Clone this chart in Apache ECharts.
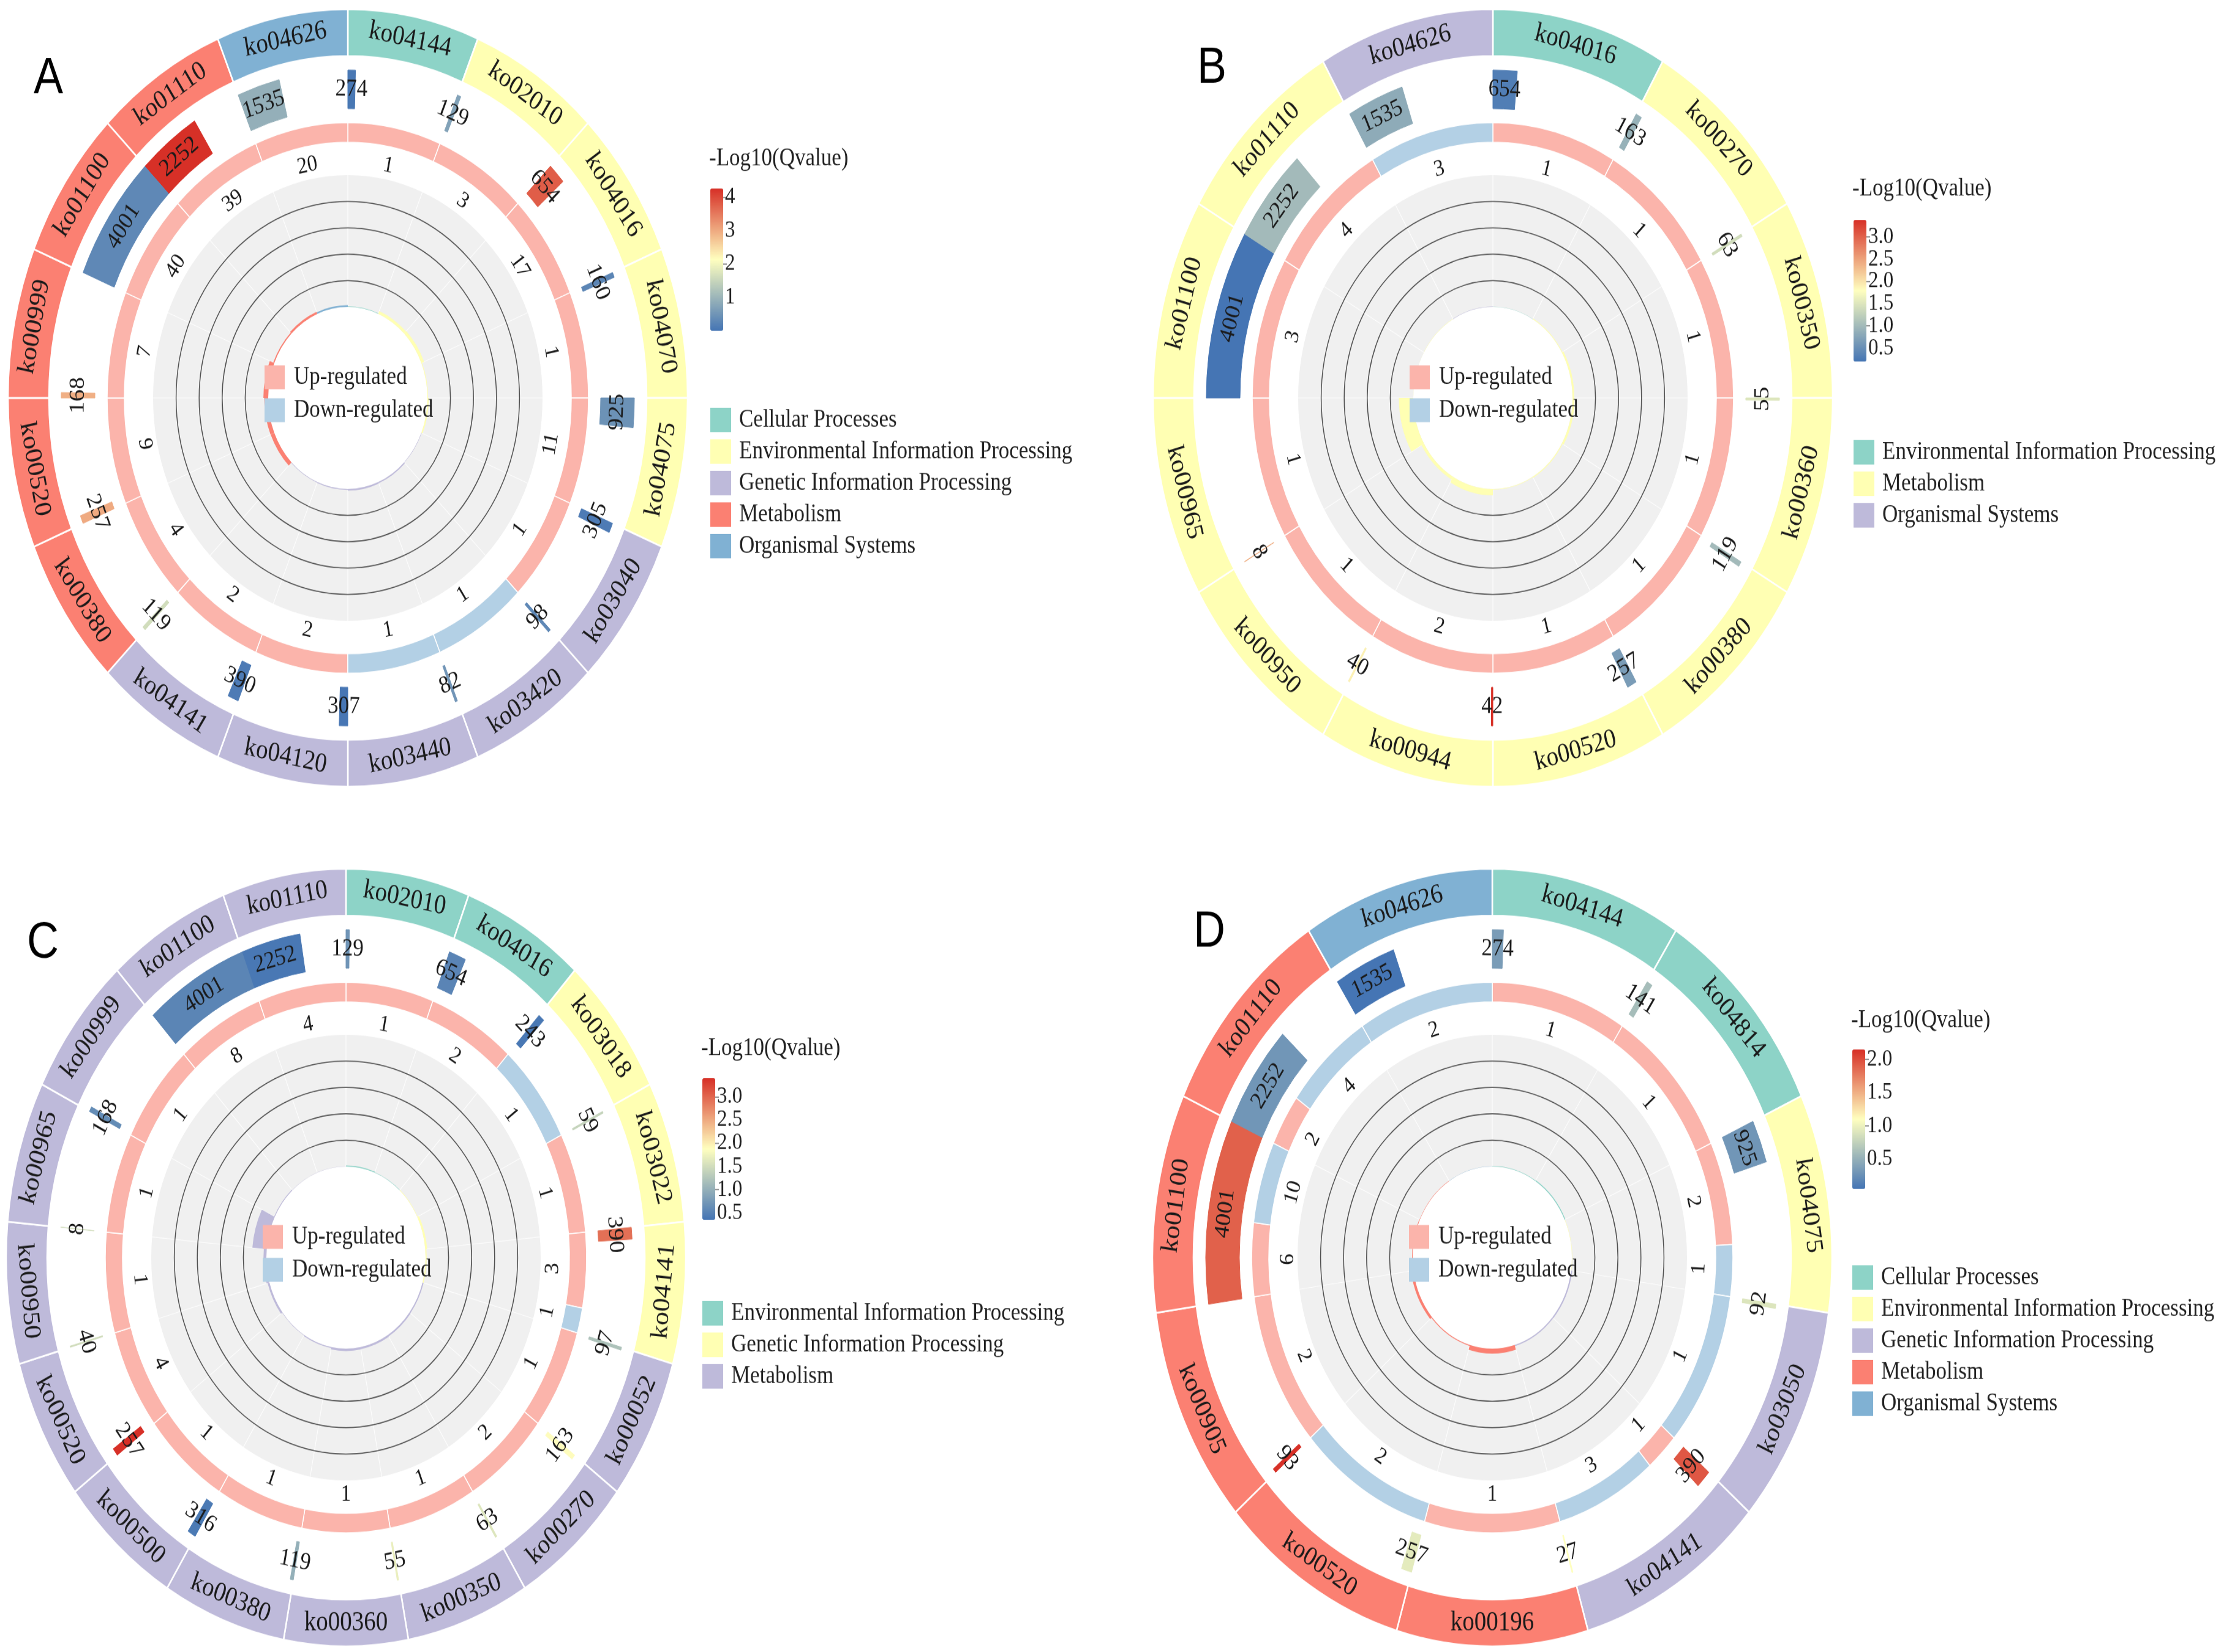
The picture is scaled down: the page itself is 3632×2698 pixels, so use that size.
<!DOCTYPE html>
<html>
<head>
<meta charset="utf-8">
<script src="https://cdn.jsdelivr.net/npm/echarts@6/dist/echarts.min.js"></script>
<style>
html{margin:0;padding:0;background:#ffffff;overflow:hidden;}
body{margin:0;padding:0;background:#ffffff;width:3632px;height:2698px;}
#chart{width:3632px;height:2358px;transform:scaleY(1.14419);transform-origin:0 0;}
</style>
</head>
<body>
<div id="chart"></div>
<script>
// ================= DATA =================
// Panel A
const A_pathways = ['ko04144','ko02010','ko04016','ko04070','ko04075','ko03040','ko03420','ko03440','ko04120','ko04141','ko00380','ko00520','ko00999','ko01100','ko01110','ko04626'];
const A_classes = ['Cellular Processes','Environmental Information Processing','Genetic Information Processing','Metabolism','Organismal Systems'];
const A_pathwayClass = [0,1,1,1,1,2,2,2,2,2,3,3,3,3,3,4];
const A_background = [274,129,654,160,925,305,98,82,307,390,119,257,168,4001,2252,1535];
const A_qvalue = [0.05,0.7,3.8,0.25,0.45,0.1,0.3,0.5,0.02,0.1,1.6,3.0,2.95,0.3,4.26,0.9];
const A_up = [1,3,17,1,11,1,0,0,2,2,4,9,7,40,39,20];
const A_down = [0,0,0,0,0,0,1,1,0,0,0,0,0,0,0,0];
const A_richFactor = [0.004,0.023,0.026,0.006,0.012,0.003,0.010,0.012,0.0065,0.005,0.034,0.035,0.042,0.010,0.017,0.013];
const A_qRange = [0, 4.26];
const A_qTicks = [1,2,3,4];

// Panel B
const B_pathways = ['ko04016','ko00270','ko00350','ko00360','ko00380','ko00520','ko00944','ko00950','ko00965','ko01100','ko01110','ko04626'];
const B_classes = ['Environmental Information Processing','Metabolism','Organismal Systems'];
const B_pathwayClass = [0,1,1,1,1,1,1,1,1,1,1,2];
const B_background = [654,163,63,55,119,257,42,40,8,4001,2252,1535];
const B_qvalue = [0.3,0.9,1.4,1.5,1.0,0.65,3.38,1.9,2.4,0.2,1.0,0.82];
const B_up = [1,1,1,1,1,1,2,1,1,3,4,0];
const B_down = [0,0,0,0,0,0,0,0,0,0,0,3];
const B_richFactor = [0.0015,0.006,0.016,0.018,0.008,0.004,0.048,0.025,0.125,0.00075,0.0018,0.002];
const B_qRange = [0.2, 3.38];
const B_qTicks = [0.5,1.0,1.5,2.0,2.5,3.0];

// Panel C
const C_pathways = ['ko02010','ko04016','ko03018','ko03022','ko04141','ko00052','ko00270','ko00350','ko00360','ko00380','ko00500','ko00520','ko00950','ko00965','ko00999','ko01100','ko01110'];
const C_classes = ['Environmental Information Processing','Genetic Information Processing','Metabolism'];
const C_pathwayClass = [0,0,1,1,1,2,2,2,2,2,2,2,2,2,2,2,2];
const C_background = [129,654,243,59,390,97,163,63,55,119,316,257,40,8,168,4001,2252];
const C_qvalue = [0.7,0.52,0.38,1.4,2.93,1.2,1.9,1.6,1.7,1.0,0.4,3.4,1.5,1.5,0.6,0.53,0.38];
const C_up = [1,2,0,1,3,1,2,1,1,1,1,4,1,1,1,8,4];
const C_down = [0,0,1,0,1,0,0,0,0,0,0,0,0,0,0,0,0];
const C_richFactor = [0.008,0.003,0.004,0.017,0.010,0.010,0.012,0.016,0.018,0.008,0.003,0.016,0.025,0.125,0.006,0.002,0.0018];
const C_qRange = [0.35, 3.4];
const C_qTicks = [0.5,1.0,1.5,2.0,2.5,3.0];

// Panel D
const D_pathways = ['ko04144','ko04814','ko04075','ko03050','ko04141','ko00196','ko00520','ko00905','ko01100','ko01110','ko04626'];
const D_classes = ['Cellular Processes','Environmental Information Processing','Genetic Information Processing','Metabolism','Organismal Systems'];
const D_pathwayClass = [0,0,1,2,2,3,3,3,3,3,4];
const D_background = [274,141,925,92,390,27,257,93,4001,2252,1535];
const D_qvalue = [0.35,0.6,0.3,0.9,1.95,1.1,0.95,2.15,1.9,0.3,0.05];
const D_up = [1,1,2,0,1,1,0,2,9,2,0];
const D_down = [0,0,1,1,3,0,2,0,10,4,2];
const D_richFactor = [0.004,0.007,0.003,0.011,0.010,0.037,0.008,0.0215,0.005,0.0027,0.0013];
const D_qRange = [0.05, 2.15];
const D_qTicks = [0.5,1.0,1.5,2.0];

// ================= STYLE =================
const SET3 = ['#8DD3C7','#FFFFB3','#BEBADA','#FB8072','#80B1D3'];
const UP_COLOR = '#FBB4AB';
const DOWN_COLOR = '#B3D0E5';
const QCOLORS = ['#4575B4','#FFFFBF','#D73027'];
const SERIF = 'Liberation Serif';
const TEXT_COLOR = '#1a1a1a';
// track radii (px in the un-stretched drawing)
const R = {outer0:488, outer1:555, bar0:413, bar1:468, ring0:365, ring1:393, ringLabel:338, rf0:130, rf1:318};

const PANELS = [
  {key:'A', pathways:A_pathways, classes:A_classes, pathwayClass:A_pathwayClass, background:A_background, qvalue:A_qvalue, up:A_up, down:A_down, richFactor:A_richFactor, qRange:A_qRange, qTicks:A_qTicks, qDigits:0,
   layout:{center:[568,568], letter:[55,77], legendX:1160, titleTop:209, barTop:269, barH:203, catTop:582}},
  {key:'B', pathways:B_pathways, classes:B_classes, pathwayClass:B_pathwayClass, background:B_background, qvalue:B_qvalue, up:B_up, down:B_down, richFactor:B_richFactor, qRange:B_qRange, qTicks:B_qTicks, qDigits:1,
   layout:{center:[2438,568], letter:[1955,62], legendX:3027, titleTop:252, barTop:314, barH:202, catTop:628}},
  {key:'C', pathways:C_pathways, classes:C_classes, pathwayClass:C_pathwayClass, background:C_background, qvalue:C_qvalue, up:C_up, down:C_down, richFactor:C_richFactor, qRange:C_qRange, qTicks:C_qTicks, qDigits:1,
   layout:{center:[565,1795], letter:[44,1311], legendX:1147, titleTop:1479, barTop:1539, barH:202, catTop:1857}},
  {key:'D', pathways:D_pathways, classes:D_classes, pathwayClass:D_pathwayClass, background:D_background, qvalue:D_qvalue, up:D_up, down:D_down, richFactor:D_richFactor, qRange:D_qRange, qTicks:D_qTicks, qDigits:1,
   layout:{center:[2437,1795], letter:[1949,1295], legendX:3025, titleTop:1439, barTop:1498, barH:199, catTop:1806}}
];

// ================= HELPERS =================
function tools(api) {
  const c = api.coord([0, 0]);
  return {
    c: c,
    ang: function (a) { const q = api.coord([100, a]); return Math.atan2(q[1] - c[1], q[0] - c[0]); },
    rad: function (r) { const q = api.coord([r, 0]); return Math.hypot(q[0] - c[0], q[1] - c[1]); },
    pt: function (r, a) { return api.coord([r, a]); }
  };
}
function sectorEl(T, a0, a1, r0, r1, style) {
  if (!(a1 - a0 > 0)) return null;
  const s = T.ang(a0);
  let e = T.ang(a1);
  while (e <= s) e += 2 * Math.PI;
  return {type:'sector', shape:{cx:T.c[0], cy:T.c[1], r0:T.rad(r0), r:T.rad(r1), startAngle:s, endAngle:e, clockwise:true}, style:style};
}
function textEl(T, r, a, text, size) {
  const q = T.pt(r, a);
  let th = Math.atan2(q[0] - T.c[0], -(q[1] - T.c[1])) * 180 / Math.PI;
  if (th < 0) th += 360;
  const rot = (th > 90 && th < 270) ? (180 - th) : -th;
  return {type:'text', x:q[0], y:q[1], rotation:rot * Math.PI / 180,
    style:{text:String(text), fill:TEXT_COLOR, font:size + 'px "Liberation Serif"', align:'center', verticalAlign:'middle'}};
}
function nameFmt(n) { return n.split('::')[1]; }

function addPanel(opt, p) {
  const L = p.layout, n = p.pathways.length;
  const maxBg = Math.max.apply(null, p.background);

  const mainPolar = opt.polar.length;
  opt.polar.push({center:L.center, radius:[0, R.outer1]});
  opt.angleAxis.push({polarIndex:mainPolar, type:'value', min:0, max:n, startAngle:90, clockwise:true, show:false});
  opt.radiusAxis.push({polarIndex:mainPolar, type:'value', min:0, max:R.outer1, show:false});

  // inner (rich factor) track: grey background + white sector separators
  const rfPolar = opt.polar.length;
  opt.polar.push({center:L.center, radius:[R.rf0, R.rf1]});
  opt.angleAxis.push({polarIndex:rfPolar, type:'category', data:p.pathways, startAngle:90, clockwise:true, boundaryGap:true, z:1,
    axisLine:{show:false}, axisTick:{show:false}, axisLabel:{show:false},
    splitLine:{show:true, interval:0, lineStyle:{color:'rgba(255,255,255,0.85)', width:1.2}}});
  opt.radiusAxis.push({polarIndex:rfPolar, type:'value', min:0, max:1, interval:0.2,
    axisLine:{show:false}, axisTick:{show:false}, axisLabel:{show:false}, splitLine:{show:false},
    splitArea:{show:true, areaStyle:{color:['#F0F0F0']}}});

  // circle grid lines of the rich factor scale
  const gridPolar = opt.polar.length;
  opt.polar.push({center:L.center, radius:[R.rf0, R.rf1]});
  opt.angleAxis.push({polarIndex:gridPolar, type:'value', min:0, max:n, startAngle:90, clockwise:true, show:false});
  opt.radiusAxis.push({polarIndex:gridPolar, type:'value', min:0, max:1, interval:0.2, z:2,
    axisLine:{show:false}, axisTick:{show:false}, axisLabel:{show:false}, splitArea:{show:false},
    splitLine:{show:true, lineStyle:{color:['rgba(0,0,0,0)','#505050','#505050','#505050','#505050','rgba(0,0,0,0)'], width:1.5}}});

  // rich factor (inner track)
  opt.series.push({type:'bar', name:p.key + '::Rich factor', coordinateSystem:'polar', polarIndex:rfPolar, barCategoryGap:'0%', silent:true, z:3,
    data:p.richFactor.map(function (v, i) { return {value:v, itemStyle:{color:SET3[p.pathwayClass[i]]}}; })});

  // outer ring: one series per KEGG class
  p.classes.forEach(function (cname, c) {
    const items = [];
    p.pathwayClass.forEach(function (ci, i) { if (ci === c) items.push([i, i]); });
    opt.series.push({type:'custom', name:p.key + '::' + cname, coordinateSystem:'polar', polarIndex:mainPolar, silent:true,
      itemStyle:{color:SET3[c]}, data:items,
      renderItem:function (params, api) {
        const T = tools(api); const i = api.value(0);
        return {type:'group', children:[
          sectorEl(T, i, i + 1, R.outer0, R.outer1, {fill:api.visual('color'), stroke:'#ffffff', lineWidth:2.5}),
          textEl(T, (R.outer0 + R.outer1) / 2, i + 0.5, p.pathways[i], 39)
        ]};
      }});
  });

  // background gene number track, coloured by -log10(Q)
  const barSeriesIndex = opt.series.length;
  opt.series.push({type:'custom', name:p.key + '::Background', coordinateSystem:'polar', polarIndex:mainPolar, silent:true,
    data:p.background.map(function (v, i) { return [i, v, p.qvalue[i]]; }),
    renderItem:function (params, api) {
      const T = tools(api); const i = api.value(0), v = api.value(1); const col = api.visual('color');
      const a1 = i + v / maxBg;
      return {type:'group', children:[
        sectorEl(T, i, a1, R.bar0, R.bar1, {fill:col, stroke:col, lineWidth:1}),
        textEl(T, (R.bar0 + R.bar1) / 2, (i + a1) / 2, v, 35)
      ]};
    }});
  opt.visualMap.push({type:'continuous', seriesIndex:barSeriesIndex, dimension:2, min:p.qRange[0], max:p.qRange[1],
    inRange:{color:QCOLORS}, calculable:false, hoverLink:false, orient:'vertical',
    left:L.legendX, top:L.barTop, itemWidth:21, itemHeight:L.barH, padding:0});

  // up / down regulated ring
  [['Up-regulated', UP_COLOR, true], ['Down-regulated', DOWN_COLOR, false]].forEach(function (cfg) {
    const isUp = cfg[2];
    opt.series.push({type:'custom', name:p.key + '::' + cfg[0], coordinateSystem:'polar', polarIndex:mainPolar, silent:true,
      itemStyle:{color:cfg[1]},
      data:p.up.map(function (u, i) { return [i, u, p.down[i]]; }),
      renderItem:function (params, api) {
        const T = tools(api); const i = api.value(0), u = api.value(1), d = api.value(2);
        const cnt = isUp ? u : d;
        if (!cnt) return {type:'group', children:[]};
        const split = i + u / (u + d);
        const a0 = isUp ? i : split, a1 = isUp ? split : i + 1;
        return {type:'group', children:[
          sectorEl(T, a0, a1, R.ring0, R.ring1, {fill:api.visual('color'), stroke:'#ffffff', lineWidth:1.5}),
          textEl(T, R.ringLabel, (a0 + a1) / 2, cnt, 33)
        ]};
      }});
  });

  // colour bar tick labels (two interleaved axes so closely packed labels are all kept)
  const gi = opt.grid.length;
  opt.grid.push({left:L.legendX, top:L.barTop, width:21, height:L.barH, show:false});
  opt.xAxis.push({gridIndex:gi, type:'value', show:false, min:0, max:1});
  [0, 1].forEach(function (parity) {
    const vals = p.qTicks.filter(function (v, k) { return k % 2 === parity; });
    opt.yAxis.push({gridIndex:gi, type:'value', position:'right', offset:0, min:p.qRange[0], max:p.qRange[1],
      axisLine:{show:false}, splitLine:{show:false},
      axisTick:{show:true, length:6, customValues:vals, lineStyle:{color:'#777777', width:1.5}},
      axisLabel:{show:true, customValues:vals, margin:3, showMinLabel:true, showMaxLabel:true,
        fontFamily:SERIF, fontSize:33, color:'#222222',
        formatter:function (v) { return Number(v).toFixed(p.qDigits); }}});
  });

  // titles
  opt.title.push({text:p.key, left:L.letter[0], top:L.letter[1], padding:0,
    textStyle:{fontFamily:'Liberation Sans', fontSize:72, fontWeight:'normal', color:'#000000', lineHeight:72}});
  opt.title.push({text:'-Log10(Qvalue)', left:L.legendX - 2, top:L.titleTop, padding:0,
    textStyle:{fontFamily:SERIF, fontSize:35, fontWeight:'normal', color:'#222222', lineHeight:35}});

  // legends
  opt.legend.push({data:[p.key + '::Up-regulated', p.key + '::Down-regulated'], formatter:nameFmt, orient:'vertical',
    left:L.center[0] - 136, top:L.center[1] - 47, padding:0, itemWidth:33, itemHeight:34, itemGap:12, icon:'rect', selectedMode:false,
    textStyle:{fontFamily:SERIF, fontSize:35, color:'#222222', lineHeight:34, padding:[0,0,0,10]}});
  opt.legend.push({data:p.classes.map(function (c) { return p.key + '::' + c; }), formatter:nameFmt, orient:'vertical',
    left:L.legendX, top:L.catTop, padding:0, itemWidth:34, itemHeight:35, itemGap:10, icon:'rect', selectedMode:false,
    textStyle:{fontFamily:SERIF, fontSize:35, color:'#222222', lineHeight:35, padding:[0,0,0,8]}});
}

const option = {animation:false, backgroundColor:'#ffffff', textStyle:{fontFamily:SERIF},
  title:[], legend:[], visualMap:[], polar:[], angleAxis:[], radiusAxis:[], grid:[], xAxis:[], yAxis:[], series:[]};
PANELS.forEach(function (p) { addPanel(option, p); });

const chart = echarts.init(document.getElementById('chart'), null, {renderer:'canvas', width:3632, height:2358});
chart.setOption(option);
</script>
</body>
</html>
